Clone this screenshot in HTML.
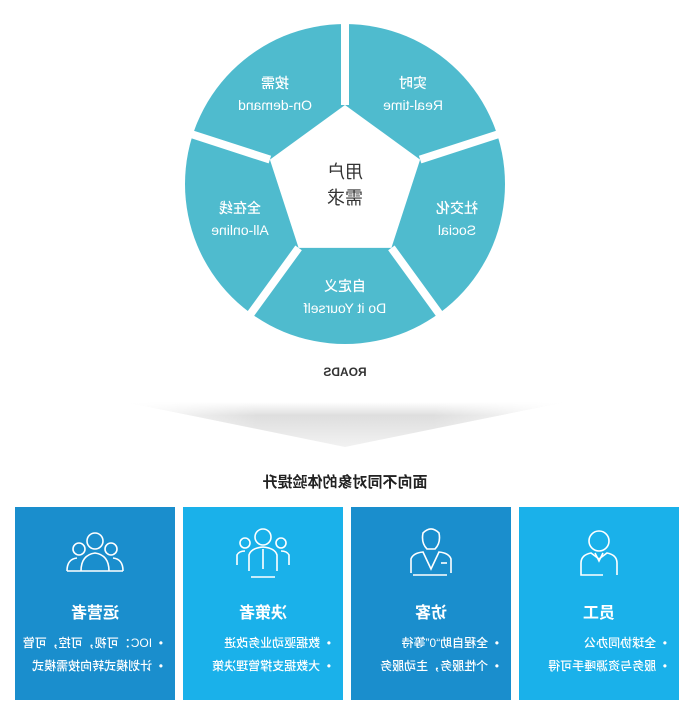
<!DOCTYPE html>
<html><head><meta charset="utf-8"><style>
html,body{margin:0;padding:0;background:#fff;}
#w{position:relative;width:690px;height:715px;overflow:hidden;transform:scaleX(-1);font-family:"Liberation Sans","Noto Sans CJK SC",sans-serif;}
.t{position:absolute;transform:translateX(-50%);white-space:nowrap;text-align:center;}
.s{font-size:14px;color:#fff;line-height:22px;font-weight:500;}
.card{position:absolute;top:507px;width:160px;height:193px;color:#fff;}
.card .h{position:absolute;top:92px;left:0;width:100%;text-align:center;font-weight:bold;font-size:16px;}
.card .b{position:absolute;left:12px;font-size:12px;white-space:nowrap;font-weight:500;}
.card svg{position:absolute;left:50px;top:18px;}
</style></head><body><div id="w">
<svg width="690" height="715" style="position:absolute;left:0;top:0">
<defs>
<linearGradient id="g" x1="0" y1="0" x2="0" y2="1">
<stop offset="0" stop-color="#fff"/><stop offset="0.3" stop-color="#dedede"/><stop offset="1" stop-color="#f2f2f2"/></linearGradient>
<linearGradient id="h" x1="0" y1="0" x2="1" y2="0">
<stop offset="0" stop-color="#fff" stop-opacity="1"/><stop offset="0.3" stop-color="#fff" stop-opacity="0"/><stop offset="0.7" stop-color="#fff" stop-opacity="0"/><stop offset="1" stop-color="#fff" stop-opacity="1"/></linearGradient>
</defs>
<circle cx="345" cy="184" r="160" fill="#4fbbce"/>
<polygon points="345,105 420.1,159.6 391.4,247.9 298.6,247.9 269.9,159.6" fill="#fff"/>
<g stroke="#fff" stroke-width="8">
<line x1="345" y1="105" x2="345" y2="14"/>
<line x1="420.1" y1="159.6" x2="506.7" y2="131.5"/>
<line x1="391.4" y1="247.9" x2="444.9" y2="321.5"/>
<line x1="298.6" y1="247.9" x2="245.1" y2="321.5"/>
<line x1="269.9" y1="159.6" x2="183.3" y2="131.5"/>
</g>
<polygon points="125,402 565,402 345,447" fill="url(#g)"/>
<polygon points="125,402 565,402 345,447" fill="url(#h)"/>
</svg>
<div class="t" style="left:345px;top:159px;font-size:18px;color:#333;line-height:26px">用户<br>需求</div>
<div class="t s" style="left:415px;top:72px">按需<br>On-demand</div>
<div class="t s" style="left:277px;top:72px">实时<br>Real-time</div>
<div class="t s" style="left:233px;top:197px">社交化<br>Social</div>
<div class="t s" style="left:450px;top:197px">全在线<br>All-online</div>
<div class="t s" style="left:345px;top:275px">自定义<br>Do it Yourself</div>
<div class="t" style="left:345px;top:365px;font-size:12px;font-weight:bold;color:#333">ROADS</div>
<div class="t" style="left:345px;top:471px;font-size:15px;font-weight:bold;color:#222">面向不同对象的体验提升</div>

<div class="card" style="left:11px;background:#1ab1ea">
<svg width="60" height="60" fill="none" stroke="#fff" stroke-width="1.6"><circle cx="30" cy="16" r="10"/><path d="M12 50 V38 Q12 30 22 28 L30 34 L38 28 Q48 30 48 38 V50 H26"/><path d="M26 28 L30 36 L34 28"/></svg>
<div class="h">员工</div><div class="b" style="top:127px">•&nbsp; 全球协同办公</div><div class="b" style="top:150px">•&nbsp; 服务与资源唾手可得</div></div>
<div class="card" style="left:179px;background:#1a8ecd">
<svg width="60" height="60" fill="none" stroke="#fff" stroke-width="1.6"><path d="M22 8 Q30 0 38 8 Q40 18 34 24 H26 Q20 18 22 8Z"/><path d="M10 48 V34 Q12 28 22 27 L30 44 L38 27 Q48 28 50 34 V48 M14 50 H48"/><path d="M14 38 H20"/></svg>
<div class="h">访客</div><div class="b" style="top:127px">•&nbsp; 全程自助“0”等待</div><div class="b" style="top:150px">•&nbsp; 个性服务，主动服务</div></div>
<div class="card" style="left:347px;background:#1ab1ea">
<svg width="60" height="60" fill="none" stroke="#fff" stroke-width="1.6"><circle cx="30" cy="12" r="8"/><circle cx="12" cy="18" r="5"/><circle cx="48" cy="18" r="5"/><path d="M16 46 V30 Q18 23 30 22 Q42 23 44 30 V46 M30 24 V44 M4 40 V30 Q6 26 12 26 M56 40 V30 Q54 26 48 26 M18 52 H42"/></svg>
<div class="h">决策者</div><div class="b" style="top:127px">•&nbsp; 数据驱动业务改进</div><div class="b" style="top:150px">•&nbsp; 大数据支撑管理决策</div></div>
<div class="card" style="left:515px;background:#1a8ecd">
<svg width="60" height="60" fill="none" stroke="#fff" stroke-width="1.6"><circle cx="30" cy="16" r="8"/><circle cx="14" cy="24" r="6"/><circle cx="46" cy="24" r="6"/><path d="M16 46 Q16 30 30 28 Q44 30 44 46 M2 46 Q2 34 12 33 M58 46 Q58 34 48 33 M2 46 H58"/></svg>
<div class="h">运营者</div><div class="b" style="top:127px">•&nbsp; IOC：可视，可控，可管</div><div class="b" style="top:150px">•&nbsp; 计划模式转向按需模式</div></div>
</div></body></html>
